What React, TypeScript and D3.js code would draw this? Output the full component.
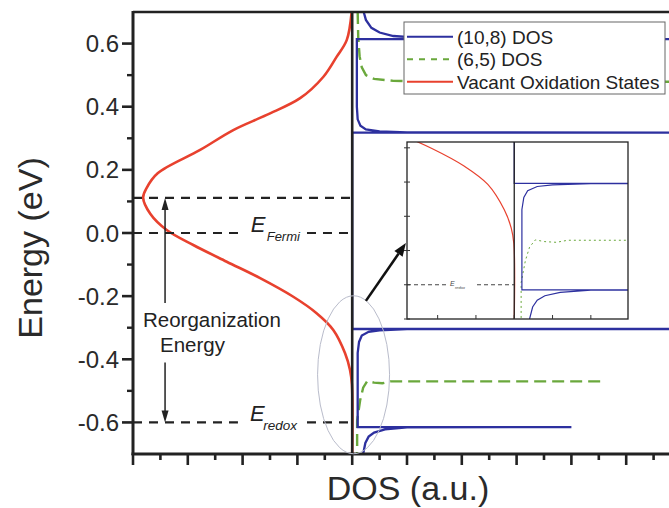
import * as d3 from 'd3';

// energy axis ticks (eV)
const energyMajor = [-0.6, -0.4, -0.2, 0.0, 0.2, 0.4, 0.6];
const energyLabels = ['-0.6', '-0.4', '-0.2', '0.0', '0.2', '0.4', '0.6'];
const energyMinor = [-0.5, -0.3, -0.1, 0.1, 0.3, 0.5];

// [dos (a.u.), energy (eV)]
const vacantStates: [number, number][] = [
  [-0.02, 0.70], [-0.2, 0.611], [-0.57, 0.558], [-1.05, 0.495], [-1.9, 0.427],
  [-3.12, 0.374], [-4.34, 0.326], [-5.55, 0.263], [-7.1, 0.189], [-7.5, 0.143],
  [-7.63, 0.112], [-7.37, 0.061], [-6.77, 0.0095], [-5.8, -0.038], [-4.58, -0.091],
  [-3.36, -0.143], [-2.15, -0.202], [-1.3, -0.254], [-0.69, -0.307], [-0.26, -0.381],
  [-0.08, -0.434], [-0.01, -0.48], [0, -0.7],
];

const dos108: [number, number][] = [
  [0.42, 0.70], [0.5, 0.675], [0.7, 0.65], [1.0, 0.635], [1.5, 0.624], [2.5, 0.618],
  [4, 0.615], [12.5, 0.614], [0.17, 0.614], [0.17, 0.40], [0.2, 0.36], [0.3, 0.34],
  [0.5, 0.328], [1.0, 0.322], [2.0, 0.3185], [12.5, 0.318], [0, 0.318], [0, -0.304],
  [12.5, -0.304], [2.0, -0.3045], [1.0, -0.308], [0.6, -0.313], [0.35, -0.325],
  [0.25, -0.345], [0.2, -0.38], [0.2, -0.615], [8.0, -0.615], [2.0, -0.6155],
  [1.2, -0.622], [0.8, -0.632], [0.6, -0.645], [0.48, -0.665], [0.4, -0.70],
];

// (6,5) DOS: band above +0.48 eV and band below -0.47 eV
const dos65Upper: [number, number][] = [
  [0.2, 0.70], [0.22, 0.62], [0.27, 0.56], [0.35, 0.525], [0.5, 0.50], [0.8, 0.488],
  [1.5, 0.482], [3, 0.48], [12.5, 0.479],
];
const dos65Lower: [number, number][] = [
  [9.05, -0.47], [1.4, -0.47], [1.1, -0.476], [0.8, -0.474], [0.55, -0.469],
  [0.4, -0.49], [0.29, -0.53], [0.18, -0.594], [0.18, -0.70],
];

const legendLabels = ['(10,8) DOS', '(6,5) DOS', 'Vacant Oxidation States'];
const BLUE = '#2d309f';
const GREEN = '#6aa83c';
const RED = '#e8412e';

const fermiLevel = 0.0;
const peakLevel = 0.111;
const redoxLevel = -0.6;

const FONT = '"Liberation Sans", Arial, sans-serif';

export default function App() {
  const W = 669, H = 508;
  const x = d3.scaleLinear().domain([-8, 12]).range([133, 681]);
  const y = d3.scaleLinear().domain([-0.7, 0.7]).range([454, 12]);
  const xi = d3.scaleLinear().domain([-2.8, 2.97]).range([407, 628]);
  const yi = d3.scaleLinear().domain([-0.7, -0.183]).range([319, 142]);

  const line = d3.line<[number, number]>().x(d => x(d[0])).y(d => y(d[1]));
  const smooth = d3.line<[number, number]>().x(d => x(d[0])).y(d => y(d[1]))
    .curve(d3.curveCatmullRom.alpha(0.5));
  const lineIn = d3.line<[number, number]>().x(d => xi(d[0])).y(d => yi(d[1]));
  const smoothIn = d3.line<[number, number]>().x(d => xi(d[0])).y(d => yi(d[1]))
    .curve(d3.curveCatmullRom.alpha(0.5));

  const dosTicks = x.ticks(20);
  const x0 = x(0);

  // reorganization arrow
  const ax = x(-6.83);
  const head = (tx: number, ty: number, dir: number) =>
    `M${tx},${ty} L${tx - 3.5},${ty + dir * 12} L${tx + 3.5},${ty + dir * 12} Z`;

  // pointer from ellipse to inset
  const p0 = [x(0.5), y(-0.215)];
  const p1 = [x(1.96), y(-0.032)];
  const ang = Math.atan2(p1[1] - p0[1], p1[0] - p0[0]);
  const hl = 13, hw = 5;
  const bx = p1[0] - hl * Math.cos(ang), by = p1[1] - hl * Math.sin(ang);
  const ptrHead = `M${p1[0]},${p1[1]} L${bx + hw * Math.sin(ang)},${by - hw * Math.cos(ang)} L${bx - hw * Math.sin(ang)},${by + hw * Math.cos(ang)} Z`;

  const dash = { stroke: '#222', strokeWidth: 2.2, strokeDasharray: '9,7', fill: 'none' };

  return (
    <svg width={W} height={H} style={{ position: 'absolute', left: 0, top: 0, background: '#fff' }}
      fontFamily={FONT}>
      <defs>
        <clipPath id="plotClip"><rect x={133} y={12} width={548} height={442} /></clipPath>
        <clipPath id="insetClip"><rect x={407} y={142} width={221} height={177} /></clipPath>
      </defs>

      <g clipPath="url(#plotClip)">
        <path d={smooth(vacantStates) ?? ''} fill="none" stroke={RED} strokeWidth={2.6} />
        <path d={line(dos65Upper) ?? ''} fill="none" stroke={GREEN} strokeWidth={2.4} strokeDasharray="12,6" />
        <path d={line(dos65Lower) ?? ''} fill="none" stroke={GREEN} strokeWidth={2.4} strokeDasharray="12,6" />
        <path d={line(dos108) ?? ''} fill="none" stroke={BLUE} strokeWidth={2.3} />
      </g>

      {/* reference levels */}
      <line x1={x(-8)} x2={x(-0.05)} y1={y(peakLevel)} y2={y(peakLevel)} {...dash} />
      <line x1={x(-8)} x2={x(-4.09)} y1={y(fermiLevel)} y2={y(fermiLevel)} {...dash} />
      <line x1={x(-1.65)} x2={x(-0.05)} y1={y(fermiLevel)} y2={y(fermiLevel)} {...dash} />
      <line x1={x(-8)} x2={x(-4.17)} y1={y(redoxLevel)} y2={y(redoxLevel)} {...dash} />
      <line x1={x(-1.65)} x2={x(-0.05)} y1={y(redoxLevel)} y2={y(redoxLevel)} {...dash} />
      <text x={x(-3.7)} y={y(fermiLevel) - 1} fontSize={22} fontStyle="italic" fill="#222">E</text>
      <text x={x(-3.12)} y={y(fermiLevel) + 8} fontSize={13} fontStyle="italic" fill="#222">Fermi</text>
      <text x={x(-3.73)} y={y(redoxLevel) - 1} fontSize={22} fontStyle="italic" fill="#222">E</text>
      <text x={x(-3.25)} y={y(redoxLevel) + 8} fontSize={13.5} fontStyle="italic" fill="#222">redox</text>

      {/* reorganization energy arrow */}
      <line x1={ax} x2={ax} y1={y(peakLevel) + 8} y2={y(-0.222)} stroke="#222" strokeWidth={1.5} />
      <path d={head(ax, y(peakLevel), 1)} fill="#222" />
      <line x1={ax} x2={ax} y1={y(-0.41)} y2={y(redoxLevel) - 8} stroke="#222" strokeWidth={1.5} />
      <path d={head(ax, y(redoxLevel), -1)} fill="#222" />
      <text x={143} y={327} fontSize={20.5} fill="#222">Reorganization</text>
      <text x={160} y={352} fontSize={20.5} fill="#222">Energy</text>

      {/* frame and axes */}
      <line x1={133} x2={W} y1={12} y2={12} stroke="#222" strokeWidth={2.6} />
      <line x1={x0} x2={x0} y1={12} y2={454} stroke="#222" strokeWidth={2.6} />
      <line x1={133} x2={133} y1={11} y2={455} stroke="#222" strokeWidth={3} />
      <line x1={131.5} x2={W} y1={454} y2={454} stroke="#222" strokeWidth={3} />
      {energyMajor.map((e, i) => (
        <g key={e}>
          <line x1={122} x2={133} y1={y(e)} y2={y(e)} stroke="#222" strokeWidth={2.6} />
          <text x={119} y={y(e)} dy="0.36em" textAnchor="end" fontSize={24} fill="#2a2a2a">
            {energyLabels[i]}
          </text>
        </g>
      ))}
      {energyMinor.map(e => (
        <line key={e} x1={127} x2={133} y1={y(e)} y2={y(e)} stroke="#222" strokeWidth={2.4} />
      ))}
      {dosTicks.map(t => (
        <line key={t} x1={x(t)} x2={x(t)} y1={454} y2={t % 2 === 0 ? 465 : 460}
          stroke="#222" strokeWidth={2.6} />
      ))}
      <text transform={`translate(42,248) rotate(-90)`} textAnchor="middle" fontSize={34} fill="#2a2a2a">
        Energy (eV)
      </text>
      <text x={408} y={500} textAnchor="middle" fontSize={34} fill="#2a2a2a">DOS (a.u.)</text>

      {/* highlight ellipse and pointer */}
      <ellipse cx={x(0.05)} cy={y(-0.449)} rx={36} ry={79} fill="none" stroke="#b9bccb" strokeWidth={1} />
      <line x1={p0[0]} y1={p0[1]} x2={bx} y2={by} stroke="#111" strokeWidth={2.6} />
      <path d={ptrHead} fill="#111" />

      {/* inset */}
      <rect x={407} y={142} width={221} height={177} fill="#fff" />
      <g clipPath="url(#insetClip)">
        <path d={smoothIn(vacantStates) ?? ''} fill="none" stroke={RED} strokeWidth={1.2} />
        <path d={lineIn(dos65Lower) ?? ''} fill="none" stroke={GREEN} strokeWidth={1} strokeDasharray="2,3" />
        <path d={lineIn(dos108) ?? ''} fill="none" stroke={BLUE} strokeWidth={1.2} />
        <line x1={xi(-2.8)} x2={xi(0)} y1={yi(redoxLevel)} y2={yi(redoxLevel)}
          stroke="#444" strokeWidth={1} strokeDasharray="4,3" />
      </g>
      <rect x={448} y={280} width={28} height={10} fill="#fff" />
      <text x={450} y={yi(redoxLevel) + 1} fontSize={7} fontStyle="italic" fill="#444">E</text>
      <text x={455} y={yi(redoxLevel) + 4} fontSize={4} fontStyle="italic" fill="#444">redox</text>
      <rect x={407} y={142} width={221} height={177} fill="none" stroke="#222" strokeWidth={1.3} />
      <line x1={xi(0)} x2={xi(0)} y1={142} y2={319} stroke="#222" strokeWidth={1.3} />
      {yi.ticks(5).map(t => (
        <line key={t} x1={404} x2={410} y1={yi(t)} y2={yi(t)} stroke="#333" strokeWidth={1} />
      ))}
      {xi.ticks(5).map(t => (
        <line key={t} x1={xi(t)} x2={xi(t)} y1={319} y2={315} stroke="#333" strokeWidth={1} />
      ))}

      {/* legend */}
      <rect x={404} y={22} width={261} height={72} fill="#fff" stroke="#666" strokeWidth={1} />
      {legendLabels.map((lab, i) => {
        const ly = 36.7 + i * 22.5;
        const col = [BLUE, GREEN, RED][i];
        return (
          <g key={lab}>
            <line x1={407} x2={453} y1={ly} y2={ly} stroke={col} strokeWidth={2}
              strokeDasharray={i === 1 ? '6,6' : undefined} />
            <text x={457} y={ly} dy="0.36em" fontSize={19} fill="#222">{lab}</text>
          </g>
        );
      })}
    </svg>
  );
}
